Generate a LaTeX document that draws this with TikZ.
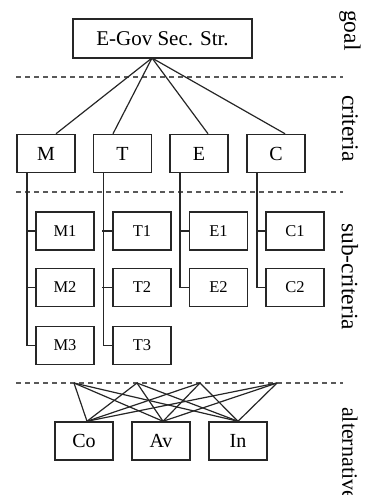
\documentclass[tikz,border=0pt]{standalone}
\usepackage{fontspec}
\setmainfont{Liberation Serif}
\usetikzlibrary{shapes, arrows}
\tikzstyle{box} = [rectangle, draw=black!85, line width=1.5pt, inner sep=0pt, minimum width=58pt, minimum height=38pt, font=\fontsize{20}{22}\selectfont]
\tikzstyle{subbox} = [box, font=\fontsize{16.5}{18}\selectfont]
\tikzstyle{line} = [draw=black!85, line width=1.2pt]
\tikzstyle{level} = [draw=black!65, dashed, dash pattern=on 5pt off 4pt, line width=1.3pt]
\tikzstyle{side} = [rotate=-90, anchor=west, inner sep=0pt, font=\fontsize{23.5}{25}\selectfont]

\begin{document}
\begin{tikzpicture}[x=1pt, y=-1pt]
		\useasboundingbox (0,0) rectangle (364,495);
		\def\yc{153.5}
		\def\ya{231}
		\def\yb{287.5}
		\def\yd{345.5}
		% levels
		\draw[level] (16,77) -- (343,77);
		\draw[level] (16,192) -- (343,192);
		\draw[level] (16,383) -- (343,383);
		\node[side] (lgoal) at (350,10) {goal};
		\node[side] (lcrit) at (350,95) {criteria};
		\node[side] (lsub) at (350,223) {sub-criteria};
		\node[side, font=\fontsize{22}{24}\selectfont] (lalt) at (350,407) {alternatives};

		% goal and criteria
		\node[box, minimum width=179pt, minimum height=39pt, font=\fontsize{21}{23}\selectfont] (goal) at (162.5,38.5) {E-Gov Sec. Str.};
		\node[box] (M) at (46,\yc) {M};
		\node[box] (T) at (122.5,\yc) {T};
		\node[box] (E) at (199,\yc) {E};
		\node[box] (C) at (276,\yc) {C};
		\coordinate (g) at (152,58);
		\path [line] (g) -- ([xshift=10pt]M.north);
		\path [line] (g) -- ([xshift=-9.5pt]T.north);
		\path [line] (g) -- ([xshift=9pt]E.north);
		\path [line] (g) -- ([xshift=9pt]C.north);

		% sub-criteria
		\node[subbox] (M1) at (65,\ya) {M1};
		\node[subbox] (M2) at (65,\yb) {M2};
		\node[subbox] (M3) at (65,\yd) {M3};
		\node[subbox] (T1) at (142,\ya) {T1};
		\node[subbox] (T2) at (142,\yb) {T2};
		\node[subbox] (T3) at (142,\yd) {T3};
		\node[subbox] (E1) at (218.5,\ya) {E1};
		\node[subbox] (E2) at (218.5,\yb) {E2};
		\node[subbox] (C1) at (295,\ya) {C1};
		\node[subbox] (C2) at (295,\yb) {C2};
		\path [line] ([xshift=-19pt]M.south) |- (M3.west);
		\path [line] ([xshift=-19pt]T.south) |- (T3.west);
		\path [line] ([xshift=-19pt]E.south) |- (E2.west);
		\path [line] ([xshift=-19pt]C.south) |- (C2.west);
		\path [line] (M1.west) -- ++(-9pt,0);
		\path [line] (M2.west) -- ++(-9pt,0);
		\path [line] (T1.west) -- ++(-10pt,0);
		\path [line] (T2.west) -- ++(-10pt,0);
		\path [line] (E1.west) -- ++(-9.5pt,0);
		\path [line] (C1.west) -- ++(-9pt,0);

		% alternatives
		\node[box] (Co) at (84,441) {Co};
		\node[box] (Av) at (161,441) {Av};
		\node[box] (In) at (238,441) {In};
		\coordinate (a1) at (74,383);
		\coordinate (a2) at (137,383);
		\coordinate (a3) at (200,383);
		\coordinate (a4) at (277,383);
		\foreach \a in {a1, a2, a3, a4} {
			\path [line] (\a) -- ([xshift=3pt]Co.north);
			\path [line] (\a) -- ([xshift=2pt]Av.north);
			\path [line] (\a) -- (In.north);
		}
	\end{tikzpicture}
\end{document}
